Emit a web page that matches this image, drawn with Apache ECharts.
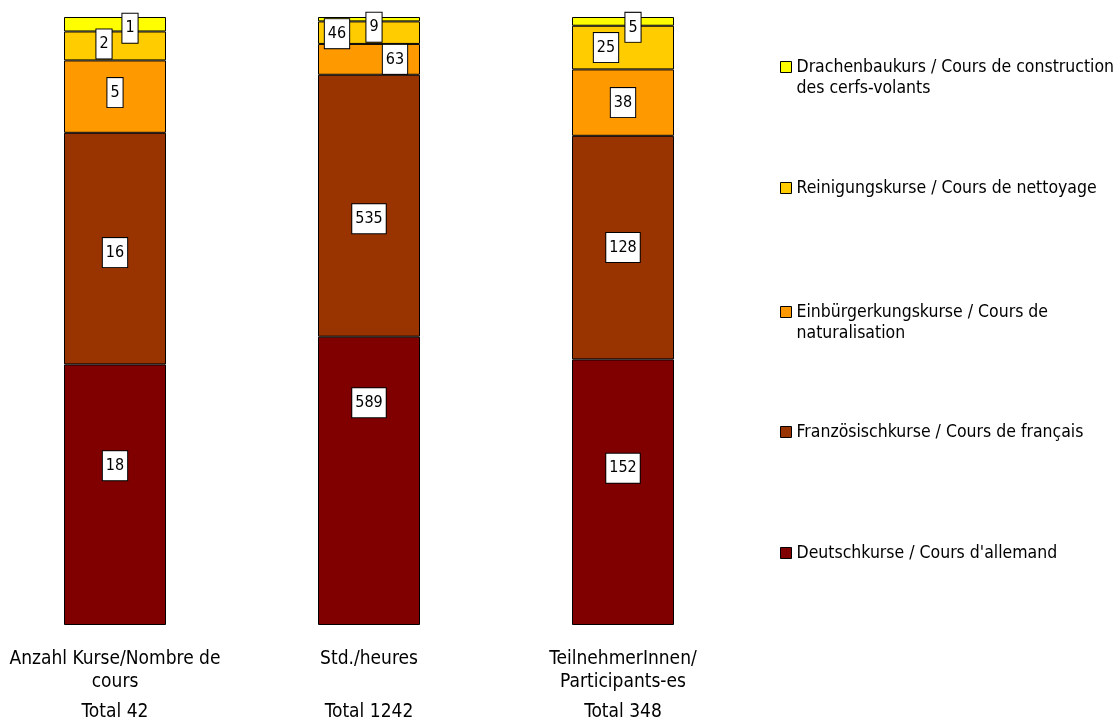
<!DOCTYPE html>
<html>
<head>
<meta charset="utf-8">
<script src="https://cdn.jsdelivr.net/npm/echarts@6/dist/echarts.min.js"></script>
<style>
  html, body { margin: 0; padding: 0; background: #ffffff; }
  #chart { width: 1116px; height: 717px; }
</style>
</head>
<body>
<div id="chart"></div>
<script>
// Categories (axis labels, with their line breaks)
const categories = ['Anzahl Kurse/Nombre de\ncours', 'Std./heures\n ', 'TeilnehmerInnen/\nParticipants-es'];

// Series values per category
const deutschkurse = [18, 589, 152];
const franzoesischkurse = [16, 535, 128];
const einbuergerungskurse = [5, 63, 38];
const reinigungskurse = [2, 46, 25];
const drachenbaukurs = [1, 9, 5];

const seriesNames = [
  "Deutschkurse / Cours d'allemand",
  'Französischkurse / Cours de français',
  'Einbürgerkungskurse / Cours de\nnaturalisation',
  'Reinigungskurse / Cours de nettoyage',
  'Drachenbaukurs / Cours de construction\ndes cerfs-volants'
];
const seriesValues = [deutschkurse, franzoesischkurse, einbuergerungskurse, reinigungskurse, drachenbaukurs];
const seriesColors = ['#800000', '#993300', '#FF9900', '#FFCC00', '#FFFF00'];

// Column totals
const totals = categories.map((_, i) => seriesValues.reduce((s, arr) => s + arr[i], 0));

// Value-label nudges (series index -> per category [dx, dy])
const labelNudge = {
  0: [[0, -29], [0, -78], [0, -24]],
  1: [[0, 4], [0, 13], [0, 0]],
  2: [[0, -4], [26, 0], [0, 0]],
  3: [[-11, -2], [-32, 1], [-17, 0]],
  4: [[15, 4], [5, 8], [10, 6]]
};

const FONT = "'DejaVu Sans Condensed', 'DejaVu Sans', sans-serif";

const series = seriesValues.map((vals, si) => ({
  name: seriesNames[si],
  type: 'bar',
  stack: 'total',
  barWidth: 102,
  itemStyle: { color: seriesColors[si], borderColor: '#000000', borderWidth: 1 },
  data: vals.map((v, ci) => ({
    value: v / totals[ci] * 100,
    label: { offset: labelNudge[si][ci] }
  })),
  label: {
    show: true,
    position: 'inside',
    formatter: p => String(seriesValues[p.seriesIndex][p.dataIndex]),
    color: '#000000',
    fontFamily: FONT,
    fontSize: 16,
    lineHeight: 18,
    backgroundColor: '#ffffff',
    borderColor: '#000000',
    borderWidth: 1,
    padding: [6, 3, 5, 3]
  },
  emphasis: { disabled: true }
}));

// One legend block per series so each entry sits at its own height
const legendTops = [35.5, 177.5, 280.5, 421.5, 542.5];
const legendOrder = [4, 3, 2, 1, 0];
const legends = legendOrder.map((si, k) => ({
  data: [seriesNames[si]],
  left: 780,
  top: legendTops[k],
  orient: 'vertical',
  icon: 'rect',
  itemWidth: 11,
  itemHeight: 11,
  itemGap: 0,
  padding: 0,
  selectedMode: false,
  // two-line entries get an empty first line so the swatch lines up with the first text line
  formatter: name => (name.includes('\n') ? '\n' + name : name),
  itemStyle: { borderColor: '#000000', borderWidth: 1 },
  textStyle: {
    fontFamily: FONT,
    fontSize: 17.5,
    color: '#000000',
    lineHeight: 21
  }
}));

const chart = echarts.init(document.getElementById('chart'), null, { renderer: 'canvas' });
chart.setOption({
  animation: false,
  backgroundColor: '#ffffff',
  grid: { left: 115, width: 508, top: 17, height: 608, containLabel: false, outerBoundsMode: 'none' },
  legend: legends,
  xAxis: {
    type: 'category',
    data: categories,
    boundaryGap: false,
    axisLine: { show: false },
    axisTick: { show: false },
    axisLabel: {
      margin: 23,
      interval: 0,
      formatter: (val, idx) => {
        const lines = val.split('\n');
        return lines.map(l => '{c|' + l + '}').join('\n') + '\n{t|Total ' + totals[idx] + '}';
      },
      rich: {
        c: { fontFamily: FONT, fontSize: 19, color: '#000000', lineHeight: 23, align: 'center' },
        t: { fontFamily: FONT, fontSize: 19, color: '#000000', lineHeight: 37, align: 'center' }
      }
    }
  },
  yAxis: {
    type: 'value',
    min: 0,
    max: 100,
    show: false,
    splitLine: { show: false }
  },
  series: series
});
</script>
</body>
</html>
